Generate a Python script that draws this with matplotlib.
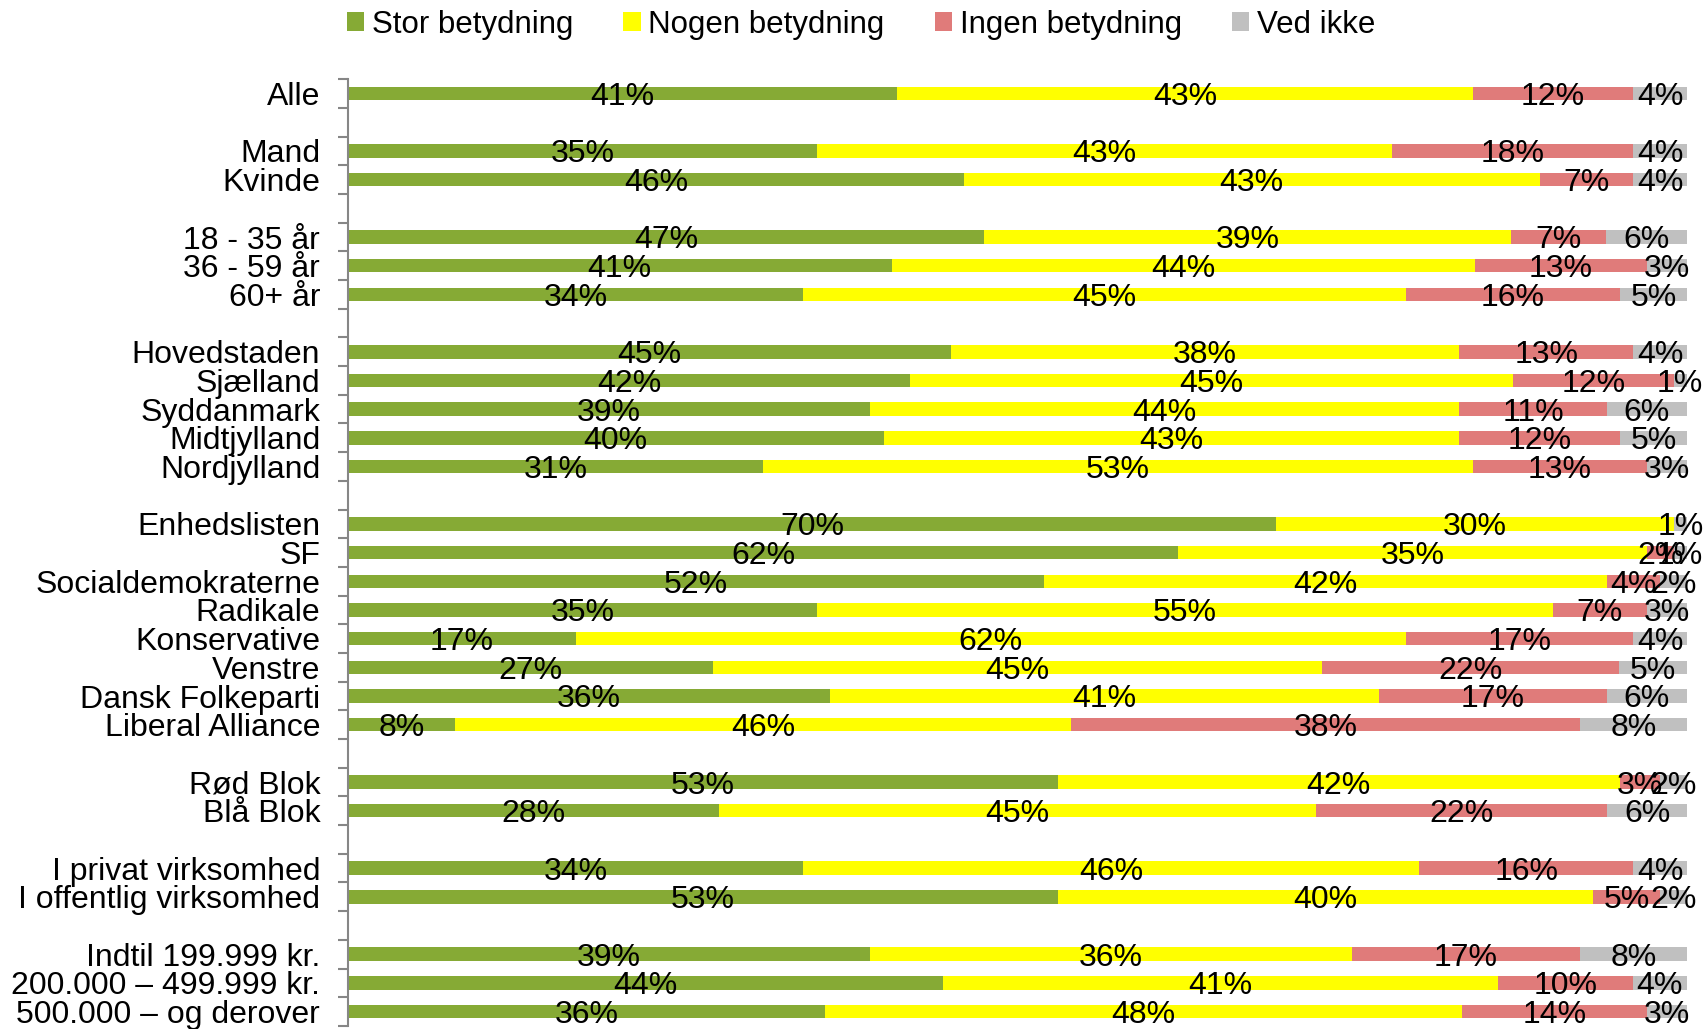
import matplotlib
matplotlib.use("Agg")
import matplotlib.pyplot as plt
from matplotlib.patches import Patch

# categories, grouped (a blank row goes between groups)
groups = [
    ["Alle"],
    ["Mand", "Kvinde"],
    ["18 - 35 år", "36 - 59 år", "60+ år"],
    ["Hovedstaden", "Sjælland", "Syddanmark", "Midtjylland", "Nordjylland"],
    ["Enhedslisten", "SF", "Socialdemokraterne", "Radikale", "Konservative",
     "Venstre", "Dansk Folkeparti", "Liberal Alliance"],
    ["Rød Blok", "Blå Blok"],
    ["I privat virksomhed", "I offentlig virksomhed"],
    ["Indtil 199.999 kr.", "200.000 – 499.999 kr.", "500.000 – og derover"],
]

series = ["Stor betydning", "Nogen betydning", "Ingen betydning", "Ved ikke"]
colors = ["#86AA35", "#FFFF00", "#E07B7A", "#C0C0C0"]

stor = [41, 35, 46, 47, 41, 34, 45, 42, 39, 40, 31, 70, 62, 52, 35, 17, 27, 36, 8,
        53, 28, 34, 53, 39, 44, 36]
nogen = [43, 43, 43, 39, 44, 45, 38, 45, 44, 43, 53, 30, 35, 42, 55, 62, 45, 41, 46,
         42, 45, 46, 40, 36, 41, 48]
ingen = [12, 18, 7, 7, 13, 16, 13, 12, 11, 12, 13, 0, 2, 4, 7, 17, 22, 17, 38,
         3, 22, 16, 5, 17, 10, 14]
vedikke = [4, 4, 4, 6, 3, 5, 4, 1, 6, 5, 3, 1, 1, 2, 3, 4, 5, 6, 8,
           2, 6, 4, 2, 8, 4, 3]

plt.rcParams["font.family"] = ["Liberation Sans", "DejaVu Sans"]

labels = []
ypos = []
slot = 0
for g in groups:
    for name in g:
        labels.append(name)
        ypos.append(slot)
        slot += 1
    slot += 1
nslots = slot - 1

fig = plt.figure(figsize=(17.05, 10.29), dpi=100)
ax = fig.add_axes([0.2041, 0.003, 0.9894 - 0.2041, 0.920])

data = [stor, nogen, ingen, vedikke]
totals = [sum(v[i] for v in data) for i in range(len(labels))]
left = [0.0] * len(labels)
for s, vals, c in zip(series, data, colors):
    w = [v / t for v, t in zip(vals, totals)]
    ax.barh(ypos, w, left=left, height=0.47, color=c, label=s)
    for y, l, ww, v in zip(ypos, left, w, vals):
        if v > 0:
            ax.text(l + ww / 2, y + 0.12, "%d%%" % v, ha="center", va="center",
                    fontsize=23, color="black")
    left = [l + ww for l, ww in zip(left, w)]

ax.set_xlim(0, 1)
ax.set_ylim(nslots - 0.5, -0.5)
ax.set_xticks([])
for sp in ["top", "right", "bottom"]:
    ax.spines[sp].set_visible(False)
ax.spines["left"].set_color("#868686")
ax.spines["left"].set_linewidth(1.5)

ax.set_yticks([i - 0.5 for i in range(nslots + 1)])
ax.set_yticklabels([])
ax.tick_params(axis="y", which="major", length=7, width=1.5, color="#868686")
ax.set_yticks(ypos, minor=True)
ax.set_yticklabels(labels, minor=True, fontsize=23)
ax.tick_params(axis="y", which="minor", length=0, pad=20)

handles = [Patch(facecolor=c, edgecolor="none") for c in colors]
fig.legend(handles, series, loc="center", bbox_to_anchor=(0.505, 0.976), ncol=4,
           frameon=False, fontsize=22.5, handlelength=0.55, handleheight=0.55,
           handletextpad=0.25, columnspacing=1.6)

fig.savefig("out.png", dpi=100)
